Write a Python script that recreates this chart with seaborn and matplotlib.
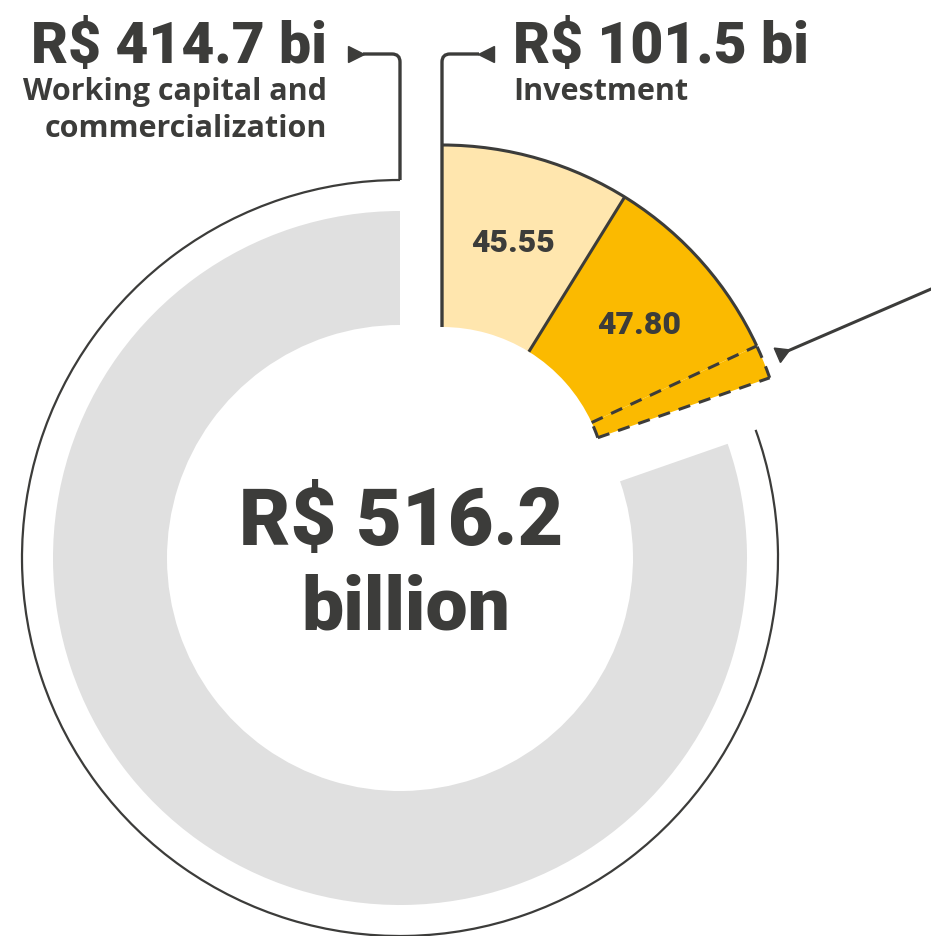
import numpy as np
import matplotlib
matplotlib.use("Agg")
import matplotlib.pyplot as plt
import seaborn as sns
from matplotlib.patches import Arc, PathPatch
from matplotlib.path import Path

# ---------------- data ----------------
total_lines = ["R$ 516.2", "billion"]
main_values = [414.7, 101.5]                    # working capital, investment
main_labels = ["R$ 414.7 bi", "R$ 101.5 bi"]
main_names = [["Working capital and", "commercialization"], ["Investment"]]
invest_parts = [45.55, 47.80, 8.15]             # investment breakdown (last = dashed remainder)
invest_part_labels = ["45.55", "47.80", ""]

# ---------------- style ----------------
sns.set_theme(style="white")
plt.rcParams["font.family"] = ["Roboto", "DejaVu Sans"]
DARK = "#3c3c3a"
GRAY = "#e0e0e0"
LIGHT = "#ffe6ae"
ORANGE = "#fbba00"
SUB_FONT = ["Open Sans", "DejaVu Sans"]

W, H = 931, 936
fig = plt.figure(figsize=(W / 100, H / 100), dpi=100)
ax = fig.add_axes([0, 0, 1, 1])

# gray ring (working capital)
gc = (400, 378)
g_r, g_w = 347, 114
gw, _ = ax.pie(main_values, colors=[GRAY, "none"], startangle=90, counterclock=True,
               radius=g_r, center=gc, frame=True,
               wedgeprops=dict(width=g_w, edgecolor="none", linewidth=0))
gw[1].set_visible(False)

# thin outer circle around the gray segment
o_r = 378
ax.add_patch(Arc(gc, 2 * o_r, 2 * o_r, theta1=gw[0].theta1, theta2=gw[0].theta2 + 0.6,
                 color=DARK, lw=1.6))

# exploded investment ring
yc = (442, 444)
y_r, y_w = 347, 182
vals = invest_parts + [main_values[0]]
yw, ytexts = ax.pie(vals, colors=[LIGHT, ORANGE, ORANGE, "none"], startangle=90,
                    counterclock=False, radius=y_r, center=yc, frame=True,
                    labels=invest_part_labels + [""], labeldistance=0.745,
                    wedgeprops=dict(width=y_w, edgecolor="none", linewidth=0),
                    textprops=dict(color=DARK, fontsize=23, fontweight="heavy",
                                   ha="center", va="center"))
yw[3].set_visible(False)
px, py = ytexts[1].get_position()
ytexts[1].set_position((px + 4, py - 5))

r_in = y_r - y_w


def ray(theta, **kw):
    t = np.deg2rad(theta)
    ax.plot([yc[0] + r_in * np.cos(t), yc[0] + y_r * np.cos(t)],
            [yc[1] + r_in * np.sin(t), yc[1] + y_r * np.sin(t)], **kw)


# solid outlines: outer arc of the two parts and divider
ax.add_patch(Arc(yc, 2 * y_r, 2 * y_r, theta1=yw[1].theta1, theta2=yw[0].theta2,
                 color=DARK, lw=2.2))
ray(yw[0].theta1, color=DARK, lw=2.2, solid_capstyle="butt")
# dashed outline of remainder
dash = dict(color=DARK, lw=2.2, linestyle=(0, (4, 3)))
ray(yw[2].theta2, **dash)
ray(yw[2].theta1, **dash)
ax.add_patch(Arc(yc, 2 * y_r, 2 * y_r, theta1=yw[2].theta1, theta2=yw[2].theta2, **dash))
ax.add_patch(Arc(yc, 2 * r_in, 2 * r_in, theta1=yw[2].theta1, theta2=yw[2].theta2, **dash))

# connectors with rounded corners
cy = 882
rc = 8
left_x = gc[0]
p_left = Path([(left_x, gc[1] + o_r), (left_x, cy - rc), (left_x, cy), (left_x - rc, cy), (363, cy)],
              [Path.MOVETO, Path.LINETO, Path.CURVE3, Path.CURVE3, Path.LINETO])
ax.add_patch(PathPatch(p_left, fill=False, edgecolor=DARK, lw=2.4))
ax.plot([355.5], [cy], marker=">", markersize=12, color=DARK, linestyle="none")

right_x = yc[0]
p_right = Path([(right_x, yc[1] + r_in), (right_x, cy - rc), (right_x, cy), (right_x + rc, cy), (479, cy)],
               [Path.MOVETO, Path.LINETO, Path.CURVE3, Path.CURVE3, Path.LINETO])
ax.add_patch(PathPatch(p_right, fill=False, edgecolor=DARK, lw=2.4))
ax.plot([486], [cy], marker="<", markersize=12, color=DARK, linestyle="none")

# pointer to dashed remainder
ax.plot([783, 945], [583, 653], color=DARK, lw=2.2, solid_capstyle="butt")
ang = np.degrees(np.arctan2(653 - 583, 945 - 783))
ax.plot([781], [583], marker=(3, 0, ang - 90), markersize=13, color=DARK, linestyle="none")

# headline texts
ax.text(327, 936 - 63, main_labels[0], ha="right", va="baseline", fontsize=41,
        fontweight="heavy", color=DARK)
ax.text(327, 936 - 100, main_names[0][0], ha="right", va="baseline", fontsize=22,
        fontweight="bold", color=DARK, family=SUB_FONT)
ax.text(327, 936 - 137, main_names[0][1], ha="right", va="baseline", fontsize=22,
        fontweight="bold", color=DARK, family=SUB_FONT)
ax.text(513, 936 - 63, main_labels[1], ha="left", va="baseline", fontsize=41,
        fontweight="heavy", color=DARK)
ax.text(513, 936 - 100, main_names[1][0], ha="left", va="baseline", fontsize=22,
        fontweight="bold", color=DARK, family=SUB_FONT)

# center total
ax.text(401, 936 - 545, total_lines[0], ha="center", va="baseline", fontsize=57,
        fontweight="heavy", color=DARK)
ax.text(406, 936 - 630, total_lines[1], ha="center", va="baseline", fontsize=54,
        fontweight="heavy", color=DARK)

ax.set_xlim(0, W)
ax.set_ylim(0, H)
ax.set_aspect("equal")
ax.axis("off")

fig.savefig("out.png", dpi=100, facecolor="white")
